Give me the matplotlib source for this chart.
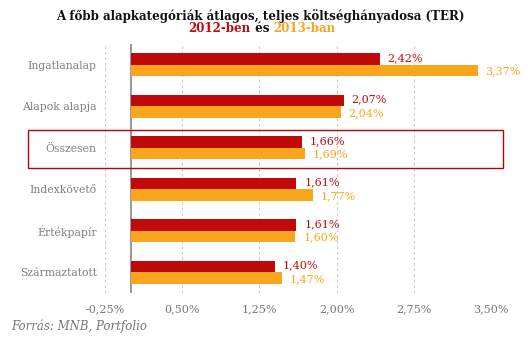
import matplotlib
matplotlib.use("Agg")
import matplotlib.pyplot as plt
from matplotlib.patches import Rectangle
import numpy as np

categories = ["Ingatlanalap", "Alapok alapja", "Összesen", "Indexkövető",
              "Értékpapír", "Származtatott"]
ter_2012 = [2.42, 2.07, 1.66, 1.61, 1.61, 1.40]
ter_2013 = [3.37, 2.04, 1.69, 1.77, 1.60, 1.47]
xticks = [-0.25, 0.50, 1.25, 2.00, 2.75, 3.50]

red = "#C00A0A"
orange = "#F9A61E"
gray = "#808080"

plt.rcParams["font.family"] = ["DejaVu Serif"]

fig = plt.figure(figsize=(5.31, 3.42), dpi=100)
ax = fig.add_axes([105 / 531, 1 - 293 / 342, 386 / 531, 249 / 342])

y = np.arange(len(categories))
h = 0.28
ax.barh(y - h / 2, ter_2012, height=h, color=red, zorder=3)
ax.barh(y + h / 2, ter_2013, height=h, color=orange, zorder=3)

def fmt(v):
    return ("%.2f%%" % v).replace(".", ",")

for i in range(len(categories)):
    ax.text(ter_2012[i] + 0.075, y[i] - h / 2 - 0.02, fmt(ter_2012[i]),
            color=red, fontsize=8, va="center", ha="left", zorder=4)
    ax.text(ter_2013[i] + 0.075, y[i] + h / 2 + 0.02, fmt(ter_2013[i]),
            color=orange, fontsize=8, va="center", ha="left", zorder=4)

ax.set_xlim(-0.25, 3.5)
ax.set_ylim(len(categories) - 0.5, -0.5)
ax.set_xticks(xticks)
ax.set_xticklabels([fmt(v) for v in xticks], color="#777777", fontsize=8)
ax.set_yticks(y)
ax.set_yticklabels(categories, color=gray, fontsize=7.8)
ax.tick_params(length=0)
ax.tick_params(axis="x", pad=8)
ax.tick_params(axis="y", pad=6)
for s in ax.spines.values():
    s.set_visible(False)
ax.grid(axis="x", color="#cccccc", linestyle=(0, (2.5, 2.5)), linewidth=0.8, zorder=0)
ax.axvline(0, color="#888888", linewidth=1.2, zorder=2)

# frame around "Összesen"
fig.patches.append(Rectangle((28 / 531, 1 - 168 / 342), 475 / 531, 38 / 342,
                             transform=fig.transFigure, fill=False,
                             edgecolor="#C00000", linewidth=1.0))

fig.text(260 / 531, 1 - 16 / 342,
         "A főbb alapkategóriák átlagos, teljes költséghányadosa (TER)",
         ha="center", va="center", fontsize=8.6, fontweight="bold", color="#111111")

# second title line in three colours
parts = [("2012-ben", red), (" és ", "#111111"), ("2013-ban", orange)]
r = fig.canvas.get_renderer()
texts = []
for s, c in parts:
    texts.append(fig.text(0, 1 - 29 / 342, s, ha="left", va="center",
                          fontsize=8.6, fontweight="bold", color=c))
widths = [t.get_window_extent(r).width for t in texts]
x0 = 262 - sum(widths) / 2
for t, w in zip(texts, widths):
    t.set_x(x0 / 531)
    x0 += w

fig.text(11 / 531, 1 - 326 / 342, "Forrás: MNB, Portfolio", ha="left",
         va="center", fontsize=8.5, style="italic", color="#777777")

fig.savefig("out.png", dpi=100)
